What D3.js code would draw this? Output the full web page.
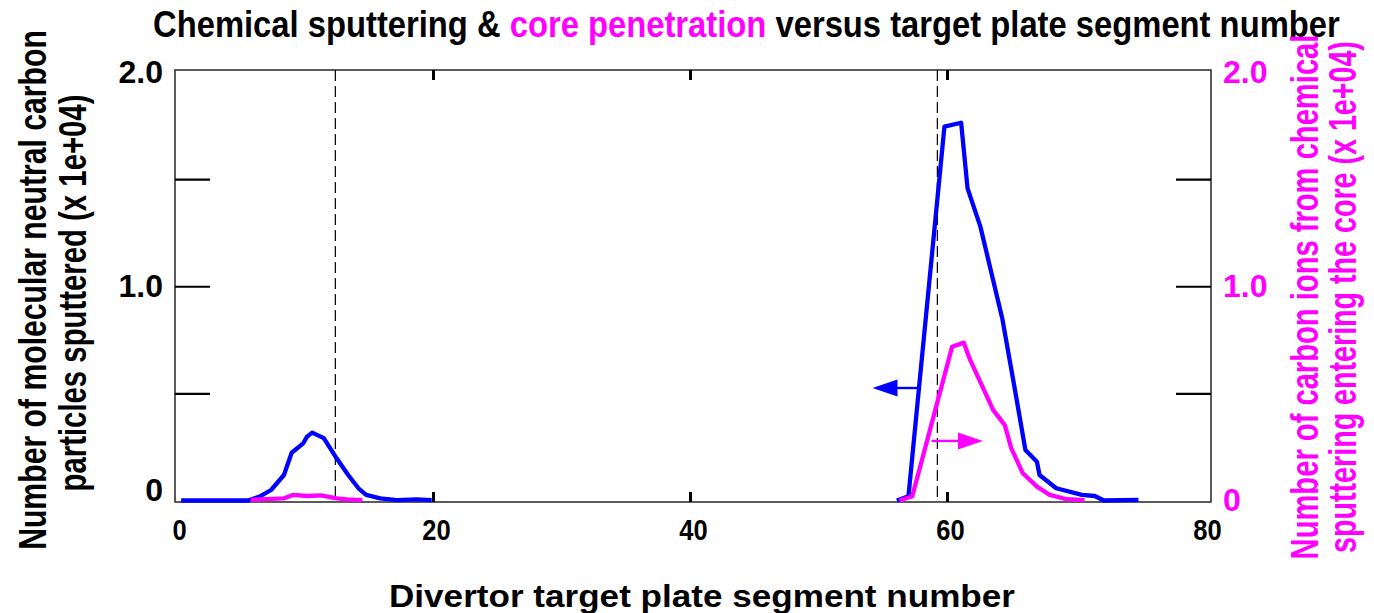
<!DOCTYPE html>
<html>
<head>
<meta charset="utf-8">
<script src="https://cdn.jsdelivr.net/npm/d3@7"></script>
<style>
  body { margin: 0; background: #fff; }
  svg { display: block; }
  text { font-family: "Liberation Sans", Arial, sans-serif; font-weight: bold; }
</style>
</head>
<body>
<svg id="chart" width="1374" height="613"></svg>
<script>
// ---- data (values in units of 1e+04) ----
const xTickLabels = [0, 20, 40, 60, 80];
const xTickMarks = [20, 40, 60];
const yTickLabels = [0, 1, 2];
const yTickMarks = [0.5, 1, 1.5];

// molecular neutral carbon sputtered, inner and outer divertor legs
const sputterInnerSeg = [0.4, 5.6, 6.5, 7.4, 8.4, 9.0, 9.9, 10.2, 10.6, 11.5, 12.5, 13.4, 14.2, 14.8, 15.9, 17.2, 18.7, 19.9];
const sputterInnerVal = [0, 0, 0.018, 0.049, 0.119, 0.223, 0.267, 0.298, 0.317, 0.291, 0.197, 0.119, 0.057, 0.026, 0.010, 0.002, 0.005, 0.002];
const sputterOuterSeg = [56.1, 57.0, 59.8, 61.1, 61.6, 62.6, 64.3, 65.2, 66.1, 67.0, 67.2, 68.5, 70.5, 71.5, 72.2, 74.9];
const sputterOuterVal = [0, 0.02, 1.745, 1.763, 1.457, 1.278, 0.850, 0.547, 0.236, 0.181, 0.119, 0.057, 0.026, 0.021, 0, 0.003];

// carbon ions from chemical sputtering that reach the core
const coreInnerSeg = [5.8, 8.4, 9.1, 10.2, 11.3, 12.5, 13.3, 14.5];
const coreInnerVal = [0.003, 0.010, 0.026, 0.021, 0.024, 0.010, 0.005, 0.002];
const coreOuterSeg = [56.3, 57.3, 60.4, 61.3, 61.8, 63.6, 64.5, 65.0, 65.9, 67.0, 68.0, 69.3, 70.7];
const coreOuterVal = [0, 0.02, 0.718, 0.737, 0.656, 0.422, 0.352, 0.244, 0.127, 0.065, 0.026, 0.006, 0.002];

// strike-point markers (segment numbers)
const strikeSeg = [12.4, 59.25];

// arrows pointing each curve to its axis: [fromSeg, toSeg, level]
const leftArrow = [57.7, 54.2, 0.525];
const rightArrow = [58.8, 62.8, 0.278];

const BLUE = "#0000ff", MAGENTA = "#ff00ff";
const FONT = '"Liberation Sans", Arial, sans-serif';

// ---- layout ----
const svg = d3.select("#chart");
const frame = { left: 175, right: 1211, top: 70, bottom: 502 };
const x = d3.scaleLinear().domain([0, 80]).range([176, 1204]);
const yL = d3.scaleLinear().domain([0, 2]).range([500.5, 72]);
const yR = d3.scaleLinear().domain([0, 2]).range([500.5, 72]);

// frame
svg.append("rect")
  .attr("x", frame.left).attr("y", frame.top)
  .attr("width", frame.right - frame.left).attr("height", frame.bottom - frame.top)
  .attr("fill", "none").attr("stroke", "#333").attr("stroke-width", 1.6);

// inward tick marks
const tickStyle = g => {
  g.select(".domain").remove();
  g.selectAll(".tick line").attr("stroke", "#000");
  g.selectAll(".tick text").remove();
};
svg.append("g").attr("transform", `translate(0,${frame.bottom})`)
  .call(d3.axisBottom(x).tickValues(xTickMarks).tickSize(-10)).call(tickStyle)
  .selectAll(".tick line").attr("stroke-width", 3);
svg.append("g").attr("transform", `translate(0,${frame.top})`)
  .call(d3.axisTop(x).tickValues(xTickMarks).tickSize(-10)).call(tickStyle)
  .selectAll(".tick line").attr("stroke-width", 3);
svg.append("g").attr("transform", `translate(${frame.left},0)`)
  .call(d3.axisLeft(yL).tickValues(yTickMarks).tickSize(-35)).call(tickStyle)
  .selectAll(".tick line").attr("stroke-width", 2.2);
svg.append("g").attr("transform", `translate(${frame.right},0)`)
  .call(d3.axisRight(yR).tickValues(yTickMarks).tickSize(-35)).call(tickStyle)
  .selectAll(".tick line").attr("stroke-width", 2.2);

// tick labels
const fmt = d => d === 0 ? "0" : d3.format(".1f")(d);
const xl = svg.append("g").attr("transform", `translate(0,${frame.bottom})`)
  .call(d3.axisBottom(x).tickValues(xTickLabels).tickSize(0).tickPadding(17).tickFormat(d3.format("d")));
xl.select(".domain").remove();
xl.selectAll(".tick text").attr("font-size", 30).attr("fill", "#000")
  .attr("font-family", FONT).attr("font-weight", "bold")
  .attr("transform", "translate(3,0) scale(0.85,1)");

const yl = svg.append("g").attr("transform", `translate(${frame.left},0)`)
  .call(d3.axisLeft(yL).tickValues(yTickLabels).tickSize(0).tickPadding(12).tickFormat(fmt));
yl.select(".domain").remove();
yl.selectAll(".tick text").attr("font-size", 32).attr("fill", "#000")
  .attr("font-family", FONT).attr("font-weight", "bold")
  .attr("dy", d => d === 0 ? "0.0em" : "0.32em");

const yr = svg.append("g").attr("transform", `translate(${frame.right},0)`)
  .call(d3.axisRight(yR).tickValues(yTickLabels).tickSize(0).tickPadding(12).tickFormat(fmt));
yr.select(".domain").remove();
yr.selectAll(".tick text").attr("font-size", 32).attr("fill", MAGENTA)
  .attr("font-family", FONT).attr("font-weight", "bold");

// strike-point dashed lines
svg.append("g").selectAll("line").data(strikeSeg).join("line")
  .attr("x1", d => x(d)).attr("x2", d => x(d))
  .attr("y1", frame.top).attr("y2", frame.bottom)
  .attr("stroke", "#000").attr("stroke-width", 1.2).attr("stroke-dasharray", "11,5");

// curves
const drawCurve = (segs, vals, yScale, color) => {
  const pts = segs.map((s, i) => [s, vals[i]]);
  svg.append("path").datum(pts)
    .attr("fill", "none").attr("stroke", color).attr("stroke-width", 4.3)
    .attr("stroke-linejoin", "round")
    .attr("d", d3.line().x(d => x(d[0])).y(d => yScale(d[1])));
};
drawCurve(sputterInnerSeg, sputterInnerVal, yL, BLUE);
drawCurve(coreInnerSeg, coreInnerVal, yR, MAGENTA);
drawCurve(sputterOuterSeg, sputterOuterVal, yL, BLUE);
drawCurve(coreOuterSeg, coreOuterVal, yR, MAGENTA);

// axis-pointer arrows
const drawArrow = (a, yScale, color) => {
  const [from, to, lvl] = a;
  const x0 = x(from), x1 = x(to), yy = yScale(lvl);
  const dir = Math.sign(x1 - x0), head = 25, half = 8.5;
  svg.append("line").attr("x1", x0).attr("x2", x1 - dir * head + dir * 2)
    .attr("y1", yy).attr("y2", yy).attr("stroke", color).attr("stroke-width", 2.4);
  svg.append("path")
    .attr("d", `M${x1},${yy}L${x1 - dir * head},${yy - half}L${x1 - dir * head},${yy + half}Z`)
    .attr("fill", color);
};
drawArrow(leftArrow, yL, BLUE);
drawArrow(rightArrow, yR, MAGENTA);

// text fitted to a given width by horizontal scaling
function fit(sel, width, tx, ty, rot) {
  const w = sel.node().getBBox().width;
  sel.attr("transform", `translate(${tx},${ty})${rot ? " rotate(" + rot + ")" : ""} scale(${width / w},1)`);
}

// title
const title = svg.append("text").attr("font-size", 37).attr("text-anchor", "start");
title.append("tspan").attr("fill", "#000").text("Chemical sputtering & ");
title.append("tspan").attr("fill", MAGENTA).text("core penetration");
title.append("tspan").attr("fill", "#000").text(" versus target plate segment number");
fit(title, 1187, 153, 37);

// x axis title
const xt = svg.append("text").attr("font-size", 31).attr("text-anchor", "middle")
  .attr("fill", "#000").text("Divertor target plate segment number");
fit(xt, 626, 702, 607);

// left axis title
const l1 = svg.append("text").attr("font-size", 38).attr("text-anchor", "middle")
  .attr("fill", "#000").text("Number of molecular neutral carbon");
fit(l1, 520, 46, 290, -90);
const l2 = svg.append("text").attr("font-size", 38).attr("text-anchor", "middle")
  .attr("fill", "#000").text("particles sputtered (x 1e+04)");
fit(l2, 397, 86, 293, -90);

// right axis title
const r1 = svg.append("text").attr("font-size", 38).attr("text-anchor", "middle")
  .attr("fill", MAGENTA).text("Number of carbon ions from chemical");
fit(r1, 525, 1318, 297, -90);
const r2 = svg.append("text").attr("font-size", 38).attr("text-anchor", "middle")
  .attr("fill", MAGENTA).text("sputtering entering the core (x 1e+04)");
fit(r2, 512, 1356, 297, -90);
</script>
</body>
</html>
